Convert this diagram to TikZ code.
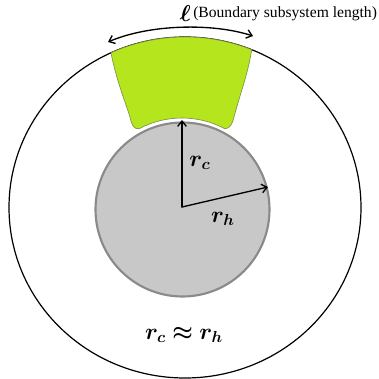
\documentclass[tikz,border=0pt]{standalone}
\usepackage{fontspec}
\setmainfont{Liberation Serif}
\usepackage{amsmath,bm}
\usetikzlibrary{arrows.meta}
\definecolor{patchgreen}{RGB}{181,230,29}
\definecolor{patchedge}{RGB}{125,150,70}
\definecolor{horizon}{RGB}{200,200,200}
\definecolor{horizonedge}{RGB}{138,138,138}
\begin{document}
\begin{tikzpicture}[x=0.75pt,y=0.75pt,line join=round,line cap=round,>={Straight Barb[length=4pt,width=6.5pt]}]
	\tikzset{lbl/.style={inner sep=0pt,font=\fontsize{17}{20}\selectfont},
		radial/.style={line width=1pt,->}}
	\path[use as bounding box] (0,0) rectangle (379,379);
	% boundary and horizon
	\coordinate (E) at (185,171.5);
	\coordinate (O) at (182,172);
	\draw[line width=0.9pt] (E) ellipse [x radius=176,y radius=170.5];
	\fill[horizon,draw=horizonedge,line width=1.6pt] (182.5,169.5) circle (87);
	% boundary subsystem
	\coordinate (TL) at (111,326.2);
	\coordinate (TR) at (251.7,329.3);
	\filldraw[fill=patchgreen,draw=patchedge,line width=0.5pt]
		(TL) .. controls (116,300) and (126,275) .. (130,262)
		.. controls (132,253) and (134,250) .. (139,250.2)
		arc[start angle=118.2,end angle=61.8,radius=91]
		.. controls (230,251) and (232,254) .. (234,262)
		.. controls (240,285) and (248,305) .. (TR)
		arc[start angle=67.73,end angle=114.87,x radius=176,y radius=170.5] -- cycle;
	% length arrow
	\coordinate (la) at (108,337);
	\coordinate (lb) at (253,343);
	\draw[line width=1pt,<->] (la) .. controls (150,355) and (213,356) .. (lb);
	\node[anchor=east,inner sep=0pt,font=\fontsize{16}{18}\selectfont] (ell) at (191,365) {$\boldsymbol{\ell}$};
	\node[anchor=west,inner sep=0pt,font=\fontsize{11.7}{14}\selectfont] (cap) at (193,365) {(Boundary subsystem length)};
	% radii
	\coordinate (rcend) at (182,259);
	\coordinate (rhend) at (268,192);
	\draw[radial] (O) -- (rcend);
	\draw[radial] (O) -- (rhend);
	\node[lbl] (rc) at (200,216) {$\boldsymbol{r_c}$};
	\node[lbl] (rh) at (223,160) {$\boldsymbol{r_h}$};
	\node[lbl] (approx) at (184,44) {$\boldsymbol{r_c\approx r_h}$};
\end{tikzpicture}
\end{document}
